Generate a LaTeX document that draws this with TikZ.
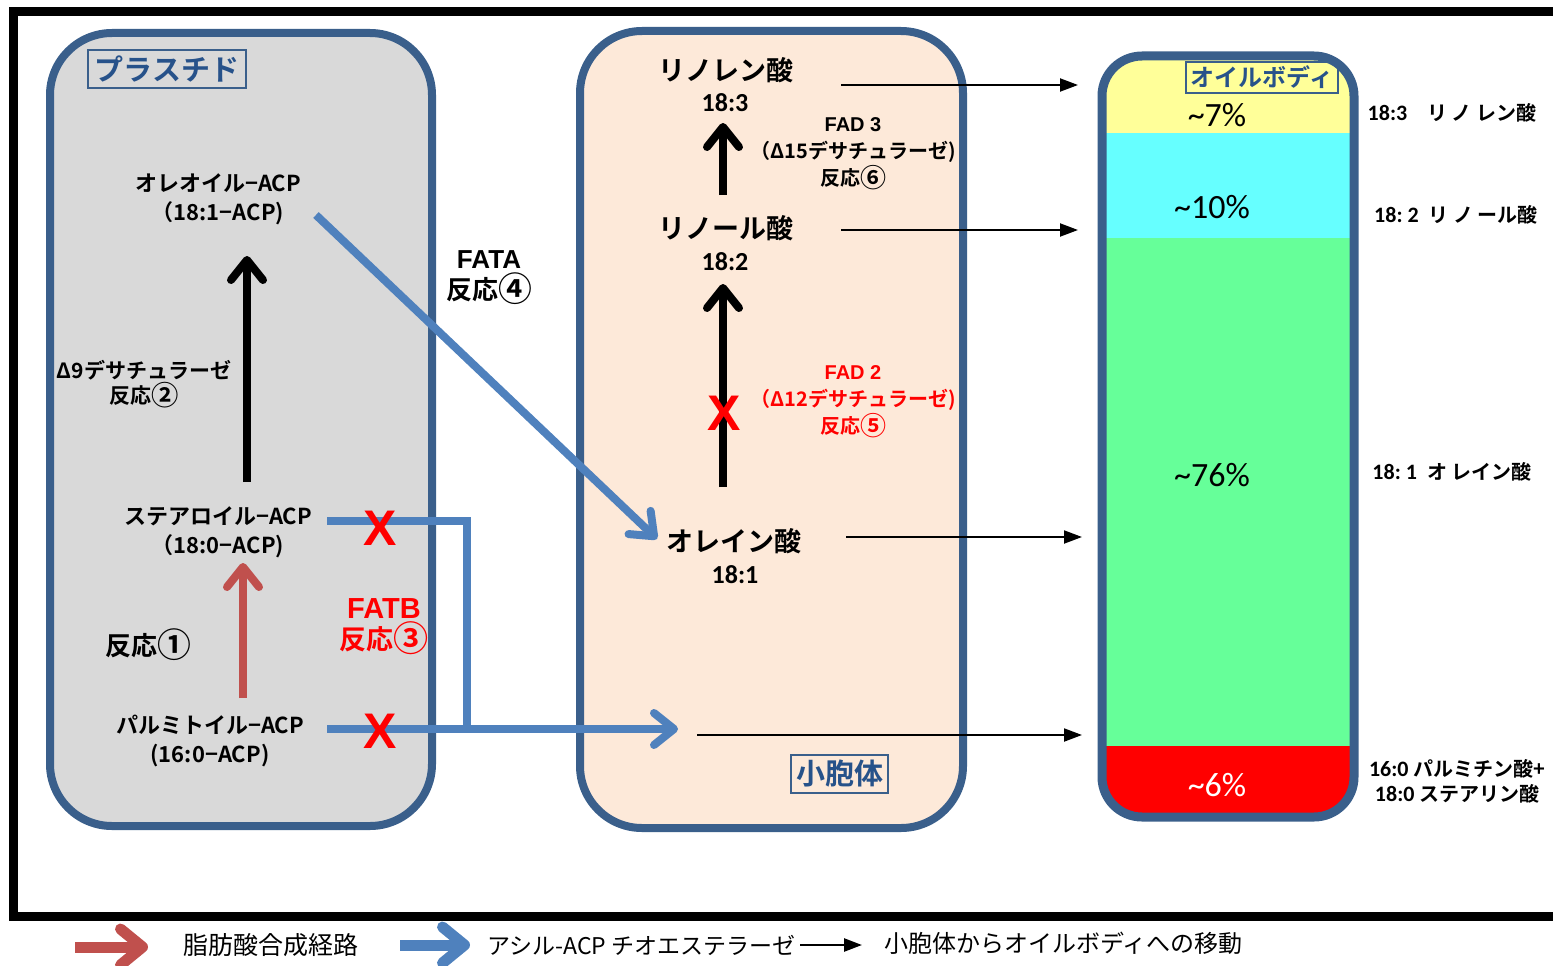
\documentclass[tikz,border=0pt]{standalone}
\usepackage{fontspec}
\usetikzlibrary{arrows.meta}
\newfontfamily\fjp{Noto Sans CJK JP}[BoldFont={Noto Sans CJK JP Bold}]
\newfontfamily\fcal{Carlito}
\newfontfamily\far{Liberation Sans}
\newcommand\fsz[2]{\fontsize{#1pt}{#2pt}\selectfont}
\newcommand\cnum[1]{\raisebox{-0.09em}{\scalebox{1.3}{#1}}}
\definecolor{boxblue}{HTML}{3A5F8B}
\definecolor{lblblue}{HTML}{27528A}
\definecolor{arrblue}{HTML}{4F81BD}
\definecolor{arrred}{HTML}{C0504D}
\definecolor{plgray}{HTML}{D9D9D9}
\definecolor{erpeach}{HTML}{FDE9D9}
\definecolor{obyellow}{HTML}{FFFF99}
\definecolor{obcyan}{HTML}{66FFFF}
\definecolor{obgreen}{HTML}{66FF99}
\definecolor{xred}{HTML}{FF0000}
\begin{document}
\begin{tikzpicture}[x=1pt,y=-1pt,
  compart/.style={draw=boxblue,line width=8pt,rounded corners=62pt},
  tag/.style={draw=boxblue,line width=1.6pt,text=lblblue,inner sep=0pt},
  lbl/.style={align=center,inner sep=0pt},
  jb/.style={lbl,font=\fjp\bfseries\fsz{22}{29}},
  acid/.style={lbl,font=\fjp\bfseries\fsz{27}{27}},
  num/.style={lbl,font=\fcal\bfseries\fsz{26}{26}},
  pct/.style={lbl,font=\fcal\fsz{34}{34}},
  side/.style={lbl,font=\fjp\bfseries\fsz{20}{25}},
  enz/.style={lbl,font=\fjp\bfseries\fsz{20}{27}},
  bigarrow/.style={line width=8pt,-{Straight Barb[length=20pt,width=32pt,round]}},
  legarrow/.style={line width=11pt,-{Straight Barb[length=22pt,width=36pt,round]}},
  thinarrow/.style={line width=2pt,-{Triangle[length=18pt,width=13pt]}},
  cross/.style={lbl,text=xred,font=\far\bfseries\fsz{50}{50}},
]
\useasboundingbox (0,0) rectangle (1553,966);
% outer frame
\draw[line width=9pt] (1560,12) -- (13,12) -- (13,916) -- (1560,916);

% compartments
\draw[compart,fill=plgray] (50,33) rectangle (432,826);
\draw[compart,fill=erpeach] (580,31) rectangle (963,828);
\begin{scope}
  \clip[rounded corners=40pt] (1102,56) rectangle (1354,817);
  \fill[obyellow] (1095,50) rectangle (1360,133);
  \fill[obcyan] (1095,133) rectangle (1360,238);
  \fill[obgreen] (1095,238) rectangle (1360,746);
  \fill[xred] (1095,746) rectangle (1360,822);
\end{scope}
\draw[draw=boxblue,line width=9pt,rounded corners=40pt] (1102,56) rectangle (1354,817);

% compartment tags
\node[tag,font=\fjp\bfseries\fsz{29}{29},minimum width=158pt,minimum height=38pt] (plastid) at (167,69) {プラスチド};
\node[tag,font=\fjp\bfseries\fsz{29}{29},minimum width=97pt,minimum height=38pt] (er) at (839.5,774) {小胞体};
\node[tag,font=\fjp\bfseries\fsz{24}{24},minimum width=152pt,minimum height=31pt] (oilbody) at (1262,77.5) {オイルボディ};

% plastid labels
\node[jb] (oleacp) at (218,199.5) {オレオイル−ACP\\（18:1−ACP)};
\node[jb] (steacp) at (218,532.5) {ステアロイル−ACP\\（18:0−ACP)};
\node[jb] (palacp) at (210,740.5) {パルミトイル−ACP\\(16:0−ACP)};
\node[lbl,font=\fjp\bfseries\fsz{21}{25}] (d9) at (144,384.5) {Δ9デサチュラーゼ\\反応\cnum{②}};
\node[lbl,font=\fjp\bfseries\fsz{26}{26}] (r1) at (148,645) {反応\cnum{①}};
\node[lbl,text=xred,font=\bfseries\fsz{29}{31}] (fatb) at (384,626.5) {{\far FATB}\\{\fjp\fsz{27}{31}反応\cnum{③}}};
\node[lbl,font=\bfseries\fsz{26}{31}] (fata) at (489,277.5) {{\far FATA}\\{\fjp 反応\cnum{④}}};

% ER labels
\node[acid] (linolen) at (726,70) {リノレン酸};
\node[num] (n183) at (725,103) {18:3};
\node[acid] (linol) at (726,228) {リノール酸};
\node[num] (n182) at (725,262) {18:2};
\node[acid] (oleic) at (734,541) {オレイン酸};
\node[num] (n181) at (735,575) {18:1};
\node[enz] (fad3) at (853,154) {{\far FAD 3}\\（Δ15デサチュラーゼ)\\反応\cnum{⑥}};
\node[enz,text=xred] (fad2) at (853,401.5) {{\far FAD 2}\\（Δ12デサチュラーゼ)\\反応\cnum{⑤}};

% oil body labels
\node[pct] (p7) at (1217,115) {\textasciitilde7\%};
\node[pct] (p10) at (1212,207) {\textasciitilde10\%};
\node[pct] (p76) at (1212,475) {\textasciitilde76\%};
\node[pct,text=white] (p6) at (1217,785) {\textasciitilde6\%};
\node[side] (s183) at (1452,113) {{\fcal\fsz{22}{25}18:3}　リ ノ レン酸};
\node[side] (s182) at (1456,215) {{\fcal\fsz{22}{25}18:\hspace{5pt}2}\hspace{10pt}リ ノ ール酸};
\node[side] (s181) at (1452,472) {{\fcal\fsz{22}{25}18:\hspace{5pt}1}\hspace{10pt}オ レイン酸};
\node[side] (s160) at (1457,781.5) {{\fcal\fsz{22}{25}16:0} パルミチン酸+\\{\fcal\fsz{22}{25}18:0} ステアリン酸};

% connector coordinates
\coordinate (a1s) at (247,482);  \coordinate (a1e) at (247,256);
\coordinate (a2s) at (243,698);  \coordinate (a2e) at (243,563);
\coordinate (b1s) at (327,521);  \coordinate (b1j) at (467,521); \coordinate (b1k) at (467,729);
\coordinate (b2s) at (327,729);  \coordinate (b2e) at (678,729);
\coordinate (dgs) at (316,215);  \coordinate (dge) at (657,539);
\coordinate (e1s) at (723,195);  \coordinate (e1e) at (723,123);
\coordinate (e2s) at (723,487);  \coordinate (e2e) at (723,284);
\coordinate (t1s) at (841,85);   \coordinate (t1e) at (1078,85);
\coordinate (t2s) at (841,230);  \coordinate (t2e) at (1078,230);
\coordinate (t3s) at (846,537);  \coordinate (t3e) at (1082,537);
\coordinate (t4s) at (697,735);  \coordinate (t4e) at (1082,735);

% pathway arrows
\draw[bigarrow,black] (a1s) -- (a1e);
\draw[bigarrow,arrred] (a2s) -- (a2e);
\draw[line width=8pt,arrblue] (b1s) -- (b1j) -- (b1k);
\draw[bigarrow,arrblue] (b2s) -- (b2e);
\draw[bigarrow,arrblue] (dgs) -- (dge);
\draw[bigarrow,black] (e1s) -- (e1e);
\draw[bigarrow,black] (e2s) -- (e2e);
\draw[thinarrow] (t1s) -- (t1e);
\draw[thinarrow] (t2s) -- (t2e);
\draw[thinarrow] (t3s) -- (t3e);
\draw[thinarrow] (t4s) -- (t4e);

% blocks
\node[cross] (x1) at (380,528) {X};
\node[cross] (x2) at (380,731) {X};
\node[cross] (x3) at (724,413) {X};

% legend
\coordinate (lr1) at (75,947);  \coordinate (lr2) at (148,947);
\coordinate (lb1) at (400,945); \coordinate (lb2) at (470,945);
\coordinate (lk1) at (800,945); \coordinate (lk2) at (862,945);
\draw[legarrow,arrred] (lr1) -- (lr2);
\node[lbl,font=\fjp\fsz{25}{25}] (lg1) at (271,945) {脂肪酸合成経路};
\draw[legarrow,arrblue] (lb1) -- (lb2);
\node[lbl,anchor=west,font=\fjp\fsz{23}{23}] (lg2) at (487,945) {アシル-ACP チオエステラーゼ};
\draw[thinarrow,line width=2.5pt] (lk1) -- (lk2);
\node[lbl,anchor=west,font=\fjp\fsz{24}{24}] (lg3) at (884,943) {小胞体からオイルボディへの移動};
\end{tikzpicture}
\end{document}
